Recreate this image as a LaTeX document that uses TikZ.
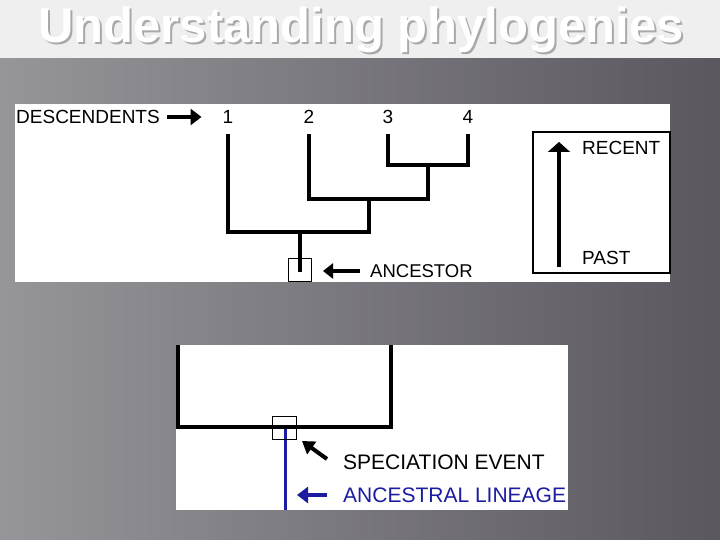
\documentclass[tikz,border=0pt]{standalone}
\usepackage{fontspec}
\setmainfont{Liberation Sans}
\usetikzlibrary{arrows.meta}
\definecolor{SlideBand}{HTML}{EFEFEF}
\definecolor{SlideLeft}{HTML}{96959A}
\definecolor{SlideRight}{HTML}{5A585E}
\definecolor{TitleShade}{HTML}{A9A9AB}
\definecolor{LineageBlue}{HTML}{1C1CA0}

\begin{document}
\begin{tikzpicture}[x=1pt, y=-1pt,
    branch/.style={line width=4pt, line join=miter},
    bigarrow/.style={line width=4pt, -{Triangle[length=11pt, width=16pt]}},
    lbl/.style={inner sep=0pt, anchor=west, font=\fontsize{19}{19}\selectfont},
    biglbl/.style={inner sep=0pt, anchor=west, font=\fontsize{21}{21}\selectfont},
    num/.style={inner sep=0pt, font=\fontsize{19}{19}\selectfont}]
    \useasboundingbox (0,0) rectangle (720,540);

    % ========== Slide background ==========
    \shade[left color=SlideLeft, right color=SlideRight] (0,58) rectangle (720,540);
    \fill[SlideBand] (0,0) rectangle (720,58);

    % Title with shadow
    \node[TitleShade, anchor=base, font=\fontsize{49}{49}\selectfont\bfseries]
        (titleshade) at (363,45) {Understanding phylogenies};
    \node[white, anchor=base, font=\fontsize{49}{49}\selectfont\bfseries]
        (title) at (361,43) {Understanding phylogenies};

    % ========== TOP: Tree with descendents ==========
    \fill[white] (15,104) rectangle (670,282);

    % Descendents label and tips
    \node[lbl] (desc) at (16,117) {DESCENDENTS};
    \node[num] (leaf1) at (228,117) {1};
    \node[num] (leaf2) at (309,117) {2};
    \node[num] (leaf3) at (388,117) {3};
    \node[num] (leaf4) at (468,117) {4};
    \draw[bigarrow, shorten <=7pt, shorten >=21pt] (desc.east) -- (leaf1.west);

    % Branch tips and junctions
    \coordinate (t1) at (228,134);
    \coordinate (t2) at (309,134);
    \coordinate (t3) at (388,134);
    \coordinate (t4) at (468,134);
    \coordinate (n34) at (428,165);
    \coordinate (n234) at (369,199);
    \coordinate (root) at (300,232);

    \draw[branch] (t3) |- (n34) -| (t4);
    \draw[branch] (t2) |- (n234) -| (n34);
    \draw[branch] (t1) |- (root) -| (n234);

    % Ancestor
    \node[draw, line width=1pt, minimum size=23pt, inner sep=0pt] (ancbox) at (300,269.5) {};
    \draw[branch] (root) -- ([yshift=-2pt]ancbox.center);
    \node[lbl, font=\fontsize{18.5}{18.5}\selectfont] (anc) at (370,271) {ANCESTOR};
    \draw[line width=4pt, -{Triangle[length=10pt, width=15pt]}, shorten <=10pt, shorten >=11pt]
        (anc.west) -- (anc.west -| ancbox.east);

    % Time direction box
    \draw[line width=1.5pt] (533,132) rectangle (670,273);
    \coordinate (past) at (559,267);
    \coordinate (recent) at (559,142);
    \draw[line width=4pt, -{Triangle[length=10pt, width=22pt]}] (past) -- (recent);
    \node[lbl] (recentlbl) at (582,148) {RECENT};
    \node[lbl] (pastlbl) at (582,258) {PAST};

    % ========== BOTTOM: Speciation event ==========
    \fill[white] (176,345) rectangle (568,510);

    \coordinate (topL) at (178,345);
    \coordinate (topR) at (391,345);
    \coordinate (split) at (285,427);
    \coordinate (lineageEnd) at (285,510);

    % Ancestral lineage
    \draw[LineageBlue, line width=3pt] (split) -- (lineageEnd);
    \draw[branch] (topL) |- (split) -| (topR);

    % Speciation box
    \node[draw, line width=1pt, minimum width=24pt, minimum height=23pt, inner sep=0pt]
        (spbox) at (284,427.5) {};

    % Labels
    \node[biglbl] (speclbl) at (343,462) {SPECIATION EVENT};
    \coordinate (spectail) at (327,459);
    \coordinate (spectip) at (302,441);
    \draw[line width=4pt, -{Triangle[length=12pt, width=15pt]}] (spectail) -- (spectip);

    \node[biglbl, LineageBlue] (linlbl) at (343,495) {ANCESTRAL LINEAGE};
    \coordinate (lintip) at (297,495);
    \draw[LineageBlue, line width=4pt, -{Triangle[length=11pt, width=16pt]}, shorten <=16pt]
        (linlbl.west) -- (lintip);

\end{tikzpicture}
\end{document}
